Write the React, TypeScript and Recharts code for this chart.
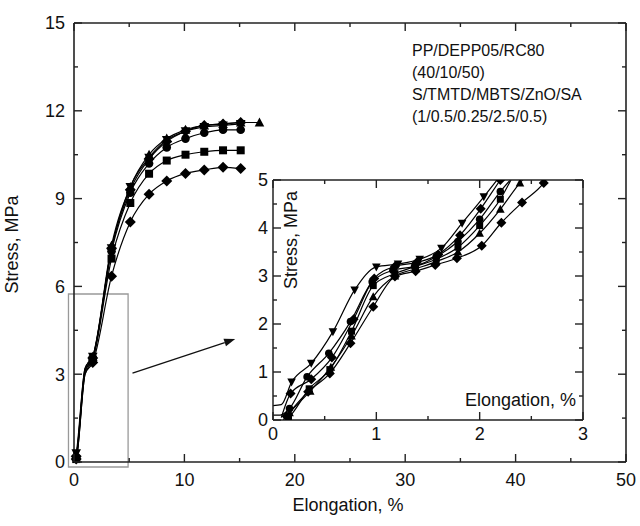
import React from "react";
import {
  LineChart,
  Line,
  XAxis,
  YAxis,
  ReferenceArea,
  ReferenceLine,
} from "recharts";

// main chart: elongation (%) points and stress (MPa) per curve
const mainX = [0, 0.2, 1.0, 1.7, 3.4, 5.1, 6.8, 8.4, 10.1, 11.8, 13.5, 15.1, 16.8];
const mainDiamondLow = [0, 0.1, 3.0, 3.4, 6.35, 8.2, 9.15, 9.6, 9.86, 9.98, 10.07, 10.03];
const mainSquare = [0, 0.1, 3.0, 3.5, 6.95, 8.85, 9.85, 10.3, 10.5, 10.6, 10.65, 10.65];
const mainCircle = [0, 0.15, 3.1, 3.55, 7.2, 9.2, 10.2, 10.75, 11.05, 11.25, 11.35, 11.35];
const mainTriangle = [0, 0.2, 3.2, 3.6, 7.4, 9.4, 10.5, 11.05, 11.35, 11.5, 11.55, 11.6, 11.6];
const mainInvTriangle = [0, 0.3, 3.2, 3.6, 7.3, 9.4, 10.4, 11.0, 11.3, 11.45, 11.5, 11.55];
const mainDiamondTop = [0, 0.2, 3.1, 3.55, 7.3, 9.3, 10.35, 10.95, 11.3, 11.5, 11.55, 11.6];

// inset (zoom of 0-3 %)
const insetInvTriX = [0, 0.08, 0.18, 0.37, 0.58, 0.79, 1.0, 1.21, 1.42, 1.63, 1.83, 2.04, 2.24];
const insetInvTriY = [0.3, 0.32, 0.79, 1.18, 1.84, 2.71, 3.19, 3.25, 3.35, 3.58, 4.1, 4.65, 5.2];
const insetCircleX = [0, 0.07, 0.16, 0.33, 0.54, 0.75, 0.96, 1.16, 1.37, 1.58, 1.79, 2.0, 2.2, 2.38];
const insetCircleY = [0.1, 0.1, 0.24, 0.9, 1.39, 2.05, 2.88, 3.12, 3.2, 3.4, 3.72, 4.18, 4.76, 5.2];
const insetTriX = [0.1, 0.16, 0.36, 0.56, 0.76, 0.97, 1.18, 1.38, 1.58, 1.79, 2.0, 2.2, 2.39, 2.5];
const insetTriY = [0, 0.15, 0.6, 1.1, 1.75, 2.57, 3.0, 3.15, 3.3, 3.5, 3.89, 4.39, 4.94, 5.2];
const insetDiamondLowX = [0.1, 0.13, 0.34, 0.55, 0.75, 0.97, 1.18, 1.38, 1.57, 1.78, 2.02, 2.21, 2.41, 2.62, 2.7];
const insetDiamondLowY = [0, 0.08, 0.59, 0.97, 1.6, 2.36, 2.99, 3.1, 3.23, 3.37, 3.63, 4.11, 4.53, 4.94, 5.2];
const insetSquareX = [0.12, 0.15, 0.35, 0.55, 0.76, 0.97, 1.18, 1.38, 1.58, 1.79, 2.0, 2.2, 2.35];
const insetSquareY = [0, 0.05, 0.65, 1.05, 1.85, 2.8, 3.05, 3.2, 3.35, 3.6, 4.05, 4.6, 5.2];
const insetDiamondTopX = [0.08, 0.17, 0.37, 0.57, 0.78, 0.98, 1.18, 1.39, 1.6, 1.81, 2.01, 2.2, 2.3];
const insetDiamondTopY = [0.05, 0.55, 0.85, 1.3, 2.1, 2.95, 3.2, 3.28, 3.45, 3.85, 4.4, 5.0, 5.3];

const mainXTicks = [0, 5, 10, 15, 20, 25, 30, 35, 40, 45, 50];
const mainYTicks = [0, 1.5, 3, 4.5, 6, 7.5, 9, 10.5, 12, 13.5, 15];
const insetXTicks = [0, 0.5, 1, 1.5, 2, 2.5, 3];
const insetYTicks = [0, 0.5, 1, 1.5, 2, 2.5, 3, 3.5, 4, 4.5, 5];

const note = ["PP/DEPP05/RC80", "(40/10/50)", "S/TMTD/MBTS/ZnO/SA", "(1/0.5/0.25/2.5/0.5)"];

const FONT = "'Liberation Sans', Arial, sans-serif";
const AXIS = "#222";

const toPoints = (xs: number[], ys: number[]) => ys.map((y, i) => ({ x: xs[i], y }));

type Kind = "square" | "circle" | "triangle" | "invTriangle" | "diamond";

const drawMarker = (kind: Kind, cx: number, cy: number, s: number, key: any) => {
  const h = s / 2;
  switch (kind) {
    case "square":
      return <rect key={key} x={cx - h} y={cy - h} width={s} height={s} fill="#000" />;
    case "circle":
      return <circle key={key} cx={cx} cy={cy} r={h + 0.3} fill="#000" />;
    case "triangle":
      return <polygon key={key} points={`${cx},${cy - h - 1} ${cx + h + 0.8},${cy + h} ${cx - h - 0.8},${cy + h}`} fill="#000" />;
    case "invTriangle":
      return <polygon key={key} points={`${cx},${cy + h + 1} ${cx + h + 0.8},${cy - h} ${cx - h - 0.8},${cy - h}`} fill="#000" />;
    default:
      return <polygon key={key} points={`${cx},${cy - h - 1.5} ${cx + h + 1.5},${cy} ${cx},${cy + h + 1.5} ${cx - h - 1.5},${cy}`} fill="#000" />;
  }
};

const markerFn = (kind: Kind, size: number, show: (x: number, y: number) => boolean) => (p: any) => {
  const { cx, cy, payload, index } = p;
  if (cx == null || cy == null || !show(payload.x, payload.y)) return <g key={`e${index}`} />;
  return drawMarker(kind, cx, cy, size, `m${index}`);
};

// ticks drawn inward; tickSize/tickMargin 0 so (x, y) is the spot on the axis line
const tickFn = (side: "bottom" | "top" | "left" | "right", isMajor: (v: number) => boolean, labels: boolean, font: number, gap: number) =>
  (p: any) => {
    const { x, y, payload } = p;
    const v = payload.value;
    const major = isMajor(v);
    const len = major ? 8 : 4;
    let line;
    let label = null;
    if (side === "bottom") {
      line = <line x1={x} y1={y} x2={x} y2={y - len} stroke={AXIS} strokeWidth={1.4} />;
      if (labels && major) label = <text x={x} y={y + gap} textAnchor="middle" fontSize={font} fontFamily={FONT} fill="#111">{v}</text>;
    } else if (side === "top") {
      line = <line x1={x} y1={y} x2={x} y2={y + len} stroke={AXIS} strokeWidth={1.4} />;
    } else if (side === "left") {
      line = <line x1={x} y1={y} x2={x + len} y2={y} stroke={AXIS} strokeWidth={1.4} />;
      if (labels && major) label = <text x={x - gap} y={y} dy="0.36em" textAnchor="end" fontSize={font} fontFamily={FONT} fill="#111">{v}</text>;
    } else {
      line = <line x1={x} y1={y} x2={x - len} y2={y} stroke={AXIS} strokeWidth={1.4} />;
    }
    return (
      <g>
        {line}
        {label}
      </g>
    );
  };

const arrowShape = (p: any) => {
  const { x1, y1, x2, y2 } = p;
  if ([x1, y1, x2, y2].some((v) => v == null || isNaN(v))) return <g />;
  const a = Math.atan2(y2 - y1, x2 - x1);
  const L = 11;
  const W = 4;
  const bx = x2 - L * Math.cos(a);
  const by = y2 - L * Math.sin(a);
  const px = -Math.sin(a) * W;
  const py = Math.cos(a) * W;
  return (
    <g>
      <line x1={x1} y1={y1} x2={bx} y2={by} stroke="#111" strokeWidth={1.3} />
      <polygon points={`${x2},${y2} ${bx + px},${by + py} ${bx - px},${by - py}`} fill="#111" />
    </g>
  );
};

const mainSeries: [number[], Kind][] = [
  [mainDiamondLow, "diamond"],
  [mainSquare, "square"],
  [mainCircle, "circle"],
  [mainTriangle, "triangle"],
  [mainInvTriangle, "invTriangle"],
  [mainDiamondTop, "diamond"],
];

const insetSeries: [number[], number[], Kind][] = [
  [insetInvTriX, insetInvTriY, "invTriangle"],
  [insetCircleX, insetCircleY, "circle"],
  [insetTriX, insetTriY, "triangle"],
  [insetDiamondLowX, insetDiamondLowY, "diamond"],
  [insetSquareX, insetSquareY, "square"],
  [insetDiamondTopX, insetDiamondTopY, "diamond"],
];

const mainMajorX = (v: number) => v % 10 === 0;
const mainMajorY = (v: number) => v % 3 === 0;
const insetMajor = (v: number) => Number.isInteger(v);

export default function App() {
  return (
    <div style={{ position: "absolute", left: 0, top: 0, width: 640, height: 526, background: "#fff" }}>
      <LineChart width={640} height={526} margin={{ top: 22, right: 13, bottom: 63, left: 73 }}>
        <XAxis
          xAxisId="b"
          dataKey="x"
          type="number"
          domain={[0, 50]}
          ticks={mainXTicks}
          interval={0}
          height={1}
          tickSize={0}
          tickMargin={0}
          stroke={AXIS}
          strokeWidth={1.6}
          tick={tickFn("bottom", mainMajorX, true, 18, 24)}
          label={{
            content: (lp: any) => (
              <text x={lp.viewBox.x + lp.viewBox.width / 2 - 2} y={lp.viewBox.y + 49} textAnchor="middle" fontSize={18} fontFamily={FONT} fill="#111">
                Elongation, %
              </text>
            ),
          }}
        />
        <XAxis
          xAxisId="t"
          orientation="top"
          dataKey="x"
          type="number"
          domain={[0, 50]}
          ticks={mainXTicks}
          interval={0}
          height={1}
          tickSize={0}
          tickMargin={0}
          allowDataOverflow
          stroke={AXIS}
          strokeWidth={1.6}
          tick={tickFn("top", mainMajorX, false, 18, 0)}
        />
        <YAxis
          yAxisId="l"
          type="number"
          domain={[0, 15]}
          ticks={mainYTicks}
          interval={0}
          width={1}
          tickSize={0}
          tickMargin={0}
          stroke={AXIS}
          strokeWidth={1.6}
          tick={tickFn("left", mainMajorY, true, 18, 9)}
          label={{
            content: (lp: any) => {
              const cx = lp.viewBox.x - 55;
              const cy = lp.viewBox.y + lp.viewBox.height / 2 + 2;
              return (
                <text x={cx} y={cy} transform={`rotate(-90, ${cx}, ${cy})`} textAnchor="middle" fontSize={18} fontFamily={FONT} fill="#111">
                  Stress, MPa
                </text>
              );
            },
          }}
        />
        <YAxis
          yAxisId="r"
          orientation="right"
          type="number"
          domain={[0, 15]}
          ticks={mainYTicks}
          interval={0}
          width={1}
          tickSize={0}
          tickMargin={0}
          allowDataOverflow
          stroke={AXIS}
          strokeWidth={1.6}
          tick={tickFn("right", mainMajorY, false, 18, 0)}
        />
        <ReferenceArea
          xAxisId="b"
          yAxisId="l"
          x1={-0.5}
          x2={4.9}
          y1={-0.17}
          y2={5.74}
          fill="none"
          stroke="#999"
          strokeWidth={1.3}
          ifOverflow="visible"
        />
        <ReferenceLine
          xAxisId="b"
          yAxisId="l"
          segment={[
            { x: 5.3, y: 3.04 },
            { x: 14.6, y: 4.2 },
          ]}
          ifOverflow="visible"
          shape={arrowShape}
        />
        {mainSeries.map(([ys, kind], i) => (
          <Line
            key={`main${i}`}
            xAxisId="b"
            yAxisId="l"
            data={toPoints(mainX, ys)}
            dataKey="y"
            type="monotone"
            stroke="#000"
            strokeWidth={1.2}
            dot={markerFn(kind, 8, (x) => x > 0.1 && (x < 0.5 || x > 1.5))}
            activeDot={false}
            isAnimationActive={false}
          />
        ))}
      </LineChart>

      <div style={{ position: "absolute", left: 412, top: 40, fontFamily: FONT, fontSize: 16, lineHeight: "22px", color: "#111" }}>
        {note.map((t) => (
          <div key={t}>{t}</div>
        ))}
      </div>

      <div style={{ position: "absolute", left: 240, top: 165 }}>
        <LineChart width={350} height={280} margin={{ top: 14, right: 6, bottom: 24, left: 32 }}>
          <XAxis
            xAxisId="b"
            dataKey="x"
            type="number"
            domain={[0, 3]}
            ticks={insetXTicks}
            interval={0}
            height={1}
            tickSize={0}
            tickMargin={0}
            allowDataOverflow
            stroke={AXIS}
            strokeWidth={1.5}
            tick={tickFn("bottom", insetMajor, true, 18, 20)}
            label={{
              content: (lp: any) => (
                <text x={lp.viewBox.x + lp.viewBox.width - 7} y={lp.viewBox.y - 14} textAnchor="end" fontSize={18} fontFamily={FONT} fill="#111">
                  Elongation, %
                </text>
              ),
            }}
          />
          <XAxis
            xAxisId="t"
            orientation="top"
            dataKey="x"
            type="number"
            domain={[0, 3]}
            ticks={insetXTicks}
            interval={0}
            height={1}
            tickSize={0}
            tickMargin={0}
            allowDataOverflow
            stroke={AXIS}
            strokeWidth={1.5}
            tick={tickFn("top", insetMajor, false, 18, 0)}
          />
          <YAxis
            yAxisId="l"
            type="number"
            domain={[0, 5]}
            ticks={insetYTicks}
            interval={0}
            width={1}
            tickSize={0}
            tickMargin={0}
            allowDataOverflow
            stroke={AXIS}
            strokeWidth={1.5}
            tick={tickFn("left", insetMajor, true, 18, 5)}
            label={{
              content: (lp: any) => {
                const cx = lp.viewBox.x + 25;
                const cy = lp.viewBox.y + 60;
                return (
                  <text x={cx} y={cy} transform={`rotate(-90, ${cx}, ${cy})`} textAnchor="middle" fontSize={18} fontFamily={FONT} fill="#111">
                    Stress, MPa
                  </text>
                );
              },
            }}
          />
          <YAxis
            yAxisId="r"
            orientation="right"
            type="number"
            domain={[0, 5]}
            ticks={insetYTicks}
            interval={0}
            width={1}
            tickSize={0}
            tickMargin={0}
            allowDataOverflow
            stroke={AXIS}
            strokeWidth={1.5}
            tick={tickFn("right", insetMajor, false, 18, 0)}
          />
          {insetSeries.map(([xs, ys, kind], i) => (
            <Line
              key={`inset${i}`}
              xAxisId="b"
              yAxisId="l"
              data={toPoints(xs, ys)}
              dataKey="y"
              type="monotone"
              stroke="#000"
              strokeWidth={1.2}
              dot={markerFn(kind, 7, (x, y) => x > 0.125 && y <= 5)}
              activeDot={false}
              isAnimationActive={false}
            />
          ))}
        </LineChart>
      </div>
    </div>
  );
}
